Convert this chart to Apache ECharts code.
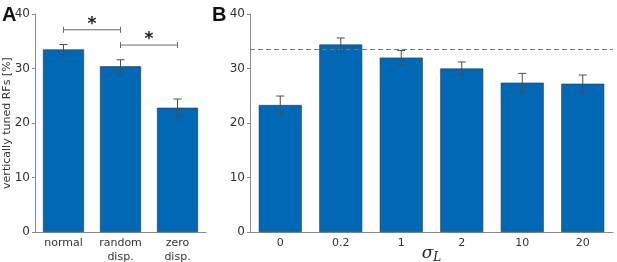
<!DOCTYPE html>
<html><head><meta charset="utf-8">
<script src="https://cdn.jsdelivr.net/npm/echarts@6/dist/echarts.min.js"></script>
<style>html,body{margin:0;padding:0;background:#fff}#c{width:617px;height:262px}</style>
</head><body><div id="c"></div>
<script>
const catsA = ['normal', 'random\ndisp.', 'zero\ndisp.'];
const valsA = [33.5, 30.4, 22.8];
const errA = [0.9, 1.2, 1.6];
const catsB = ['0', '0.2', '1', '2', '10', '20'];
const valsB = [23.3, 34.4, 32.0, 30.0, 27.4, 27.2];
const errB = [1.65, 1.2, 1.3, 1.2, 1.7, 1.6];
const refLine = 33.5;
const sigBrackets = [[0, 1, 37.1], [1, 2, 34.3]];
const yTicks = [0, 10, 20, 30, 40];

const chart = echarts.init(document.getElementById('c'), null, {renderer: 'canvas'});
const barColor = '#0068b4';
const axisColor = '#8a8a8a';
const font = 'DejaVu Sans';

function yAxis(gi, name) {
  return {
    gridIndex: gi, type: 'value', min: yTicks[0], max: yTicks[yTicks.length - 1], interval: 10,
    name: name, nameLocation: 'middle', nameGap: 22, nameRotate: 90, nameMoveOverlap: false,
    nameTextStyle: {fontFamily: font, fontSize: 11, color: '#333'},
    axisLine: {show: true, lineStyle: {color: axisColor, width: 1}},
    axisTick: {show: true, length: 3, lineStyle: {color: axisColor}},
    axisLabel: {fontFamily: font, fontSize: 12, color: '#333', margin: 5},
    splitLine: {show: false}
  };
}
function xAxis(gi, cats, extra) {
  return Object.assign({
    gridIndex: gi, type: 'category', data: cats,
    axisLine: {show: true, lineStyle: {color: axisColor, width: 1}},
    axisTick: {show: false},
    axisLabel: {fontFamily: font, fontSize: 11, color: '#333', margin: 4, lineHeight: 14}
  }, extra || {});
}
function errSeries(xi, vals, errs) {
  return {
    type: 'custom', xAxisIndex: xi, yAxisIndex: xi, z: 5,
    data: vals.map((v, i) => [i, v - errs[i], v + errs[i]]),
    renderItem: function (params, api) {
      const lo = api.coord([api.value(0), api.value(1)]);
      const hi = api.coord([api.value(0), api.value(2)]);
      const w = 4;
      const st = {stroke: '#4d4d4d', lineWidth: 1};
      return {type: 'group', children: [
        {type: 'line', shape: {x1: lo[0], y1: lo[1], x2: hi[0], y2: hi[1]}, style: st},
        {type: 'line', shape: {x1: lo[0] - w, y1: lo[1], x2: lo[0] + w, y2: lo[1]}, style: st},
        {type: 'line', shape: {x1: hi[0] - w, y1: hi[1], x2: hi[0] + w, y2: hi[1]}, style: st}
      ]};
    }
  };
}

const option = {
  animation: false,
  grid: [
    {left: 35, right: 411, top: 14, bottom: 30, containLabel: false, outerBoundsMode: 'none'},
    {left: 250, right: 4, top: 14, bottom: 30, containLabel: false, outerBoundsMode: 'none'}
  ],
  xAxis: [
    xAxis(0, catsA),
    xAxis(1, catsB, {
      name: '{s|σ}{l|L}', nameLocation: 'middle', nameGap: 12, nameMoveOverlap: false,
      nameTextStyle: {rich: {
        s: {fontFamily: 'DejaVu Serif', fontStyle: 'italic', fontSize: 17, color: '#222'},
        l: {fontFamily: 'DejaVu Serif', fontStyle: 'italic', fontSize: 12, color: '#222', padding: [8, 0, 0, 0]}
      }}
    })
  ],
  yAxis: [yAxis(0, 'vertically tuned RFs [%]'), yAxis(1, '')],
  series: [
    {type: 'bar', xAxisIndex: 0, yAxisIndex: 0, data: valsA, barWidth: '72%',
     itemStyle: {color: barColor, borderColor: '#1f3550', borderWidth: 0.6}},
    errSeries(0, valsA, errA),
    {type: 'custom', xAxisIndex: 0, yAxisIndex: 0, z: 6,
     data: sigBrackets,
     renderItem: function (params, api) {
       const a = api.coord([api.value(0), api.value(2)]);
       const b = api.coord([api.value(1), api.value(2)]);
       const st = {stroke: '#6a6a6a', lineWidth: 1};
       return {type: 'group', children: [
         {type: 'line', shape: {x1: a[0], y1: a[1], x2: b[0], y2: b[1]}, style: st},
         {type: 'line', shape: {x1: a[0], y1: a[1] - 3, x2: a[0], y2: a[1] + 3}, style: st},
         {type: 'line', shape: {x1: b[0], y1: b[1] - 3, x2: b[0], y2: b[1] + 3}, style: st},
         {type: 'text', style: {text: '*', x: (a[0] + b[0]) / 2, y: a[1] + 3, textAlign: 'center', textVerticalAlign: 'bottom',
           font: 'bold 17px "DejaVu Sans"', fill: '#222'}}
       ]};
     }},
    {type: 'bar', xAxisIndex: 1, yAxisIndex: 1, data: valsB, barWidth: '71%',
     itemStyle: {color: barColor, borderColor: '#1f3550', borderWidth: 0.6},
     markLine: {silent: true, symbol: 'none', label: {show: false},
       lineStyle: {color: '#777', type: [5, 3], width: 1},
       data: [{yAxis: refLine}]}},
    errSeries(1, valsB, errB)
  ],
  graphic: [
    {type: 'text', left: 2, top: 5, style: {text: 'A', font: 'bold 20px "Liberation Sans"', fill: '#111'}},
    {type: 'text', left: 212, top: 5, style: {text: 'B', font: 'bold 20px "Liberation Sans"', fill: '#111'}}
  ]
};
chart.setOption(option);
</script></body></html>
